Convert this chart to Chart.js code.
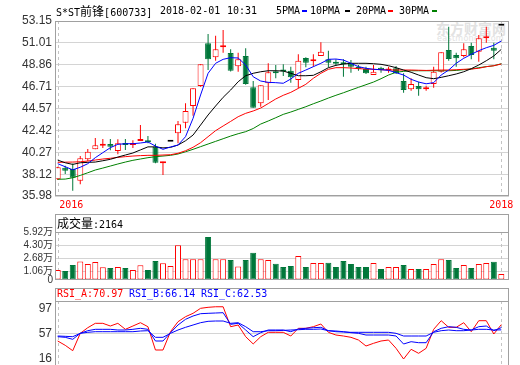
<!DOCTYPE html>
<html>
<head>
<meta charset="utf-8">
<title>S*ST前锋 600733</title>
<script src="https://cdn.jsdelivr.net/npm/chart.js@4.4.1/dist/chart.umd.min.js"></script>
<style>
  html, body { margin: 0; padding: 0; background: #fff; }
  body { position: relative; width: 520px; height: 365px; overflow: hidden; }
  canvas { position: absolute; left: 0; }
  .t { position: absolute; font: 10px "DejaVu Sans Mono", monospace; line-height: 12px; white-space: pre; color: #000; }
  .t .cn { font-family: "Noto Sans CJK SC"; font-size: 12px; }
  .mk { position: absolute; width: 5px; height: 2px; }
  .wm { position: absolute; color: #e2e2e2; font-family: "Noto Sans CJK SC"; white-space: pre; }
</style>
</head>
<body>
<div class="wm" style="left:436px;top:20px;font-size:14px;font-weight:bold;line-height:16px">东方财富网</div>
<div class="wm" style="left:437px;top:35px;font:8px 'DejaVu Sans';line-height:8px;letter-spacing:0.3px">eastmoney.com</div>

<canvas id="priceChart" width="520" height="214" style="top:0"></canvas>
<canvas id="volChart" width="520" height="74" style="top:214px"></canvas>
<canvas id="rsiChart" width="520" height="80" style="top:288px"></canvas>

<div class="t" style="left:56px;top:5px">S*ST<span class="cn">前锋</span>[600733]</div>
<div class="t" style="left:160px;top:5px">2018-02-01</div>
<div class="t" style="left:227px;top:5px">10:31</div>

<div class="t" style="left:276px;top:5px">5PMA</div><div class="mk" style="left:302px;top:10px;background:#00f"></div>
<div class="t" style="left:310px;top:5px">10PMA</div><div class="mk" style="left:345px;top:10px;background:#000"></div>
<div class="t" style="left:356px;top:5px">20PMA</div><div class="mk" style="left:388px;top:10px;background:#f00"></div>
<div class="t" style="left:399px;top:5px">30PMA</div><div class="mk" style="left:432px;top:10px;background:#008000"></div>

<div class="t" style="left:57px;top:217px"><span class="cn">成交量</span>:2164</div>

<div class="t" style="left:57px;top:288px;color:#f00">RSI_A:70.97</div>
<div class="t" style="left:129px;top:288px;color:#00f">RSI_B:66.14</div>
<div class="t" style="left:201px;top:288px;color:#00f">RSI_C:62.53</div>

<script>
const RED = "#f00";
const GREEN = "#00773a";

// year markers (candle index) and their labels
const yearIdx = [1, 60];
const yearLabels = ["2016", "2018"];

const priceTicks = [35.98, 38.12, 40.27, 42.42, 44.57, 46.71, 48.86, 51.01, 53.15];
const volTicks = [0, 1.06, 2.68, 4.30, 5.92];
const rsiTicks = [16, 57, 97];

// candles
const open = [37.62, 38.75, 38.63, 37.48, 39.58, 40.56, 40.90, 41.08, 40.39, 41.08,
              40.98, 41.37, 41.44, 40.82, 39.20, 41.30, 42.13, 43.17, 44.81, 46.77,
              50.96, 49.59, 50.57, 50.01, 48.70, 49.72, 46.64, 45.07, 47.04, 48.17,
              48.27, 48.27, 47.36, 49.52, 49.19, 49.72, 49.39, 49.10, 49.06, 49.00,
              48.67, 48.44, 47.85, 48.57, 48.30, 48.51, 47.26, 46.45, 46.77, 46.45,
              46.97, 48.17, 50.30, 49.81, 49.72, 50.70, 50.14, 51.45, 50.53, 52.69];
const high = [38.85, 38.95, 39.18, 39.90, 40.59, 41.67, 41.58, 41.58, 41.55, 41.58,
              41.45, 42.94, 41.86, 41.10, 39.35, 41.30, 43.34, 45.07, 46.54, 48.90,
              51.87, 51.71, 52.27, 50.37, 50.04, 50.47, 47.26, 46.84, 49.00, 48.83,
              48.90, 48.67, 49.88, 49.60, 49.88, 51.06, 50.24, 49.39, 49.39, 49.32,
              48.83, 48.67, 48.83, 48.67, 48.67, 48.73, 48.02, 47.53, 47.19, 46.80,
              48.67, 50.08, 52.59, 50.04, 50.96, 51.02, 51.78, 52.59, 51.02, 52.69];
const low = [37.55, 38.14, 36.50, 37.13, 39.41, 40.56, 40.69, 40.46, 40.08, 40.50,
             40.69, 41.37, 41.15, 39.20, 38.04, 41.30, 41.15, 42.62, 43.86, 46.70,
             48.34, 49.25, 50.04, 48.20, 48.17, 46.90, 44.64, 44.74, 45.40, 47.53,
             47.75, 47.10, 46.55, 48.60, 48.67, 49.72, 48.60, 48.76, 47.68, 48.08,
             48.27, 47.95, 47.85, 48.08, 48.08, 47.95, 46.11, 46.31, 45.82, 46.31,
             46.60, 48.10, 49.25, 48.67, 49.60, 49.39, 49.16, 51.02, 49.39, 52.69];
const close = [38.79, 38.46, 37.77, 39.68, 40.32, 40.95, 40.95, 40.81, 41.15, 40.98,
               41.15, 41.57, 41.25, 39.24, 39.30, 41.30, 43.01, 44.32, 46.54, 48.90,
               49.39, 50.37, 50.73, 48.27, 49.39, 46.97, 44.64, 46.84, 48.11, 48.02,
               48.20, 47.62, 49.25, 49.06, 49.39, 50.14, 49.06, 48.96, 48.90, 48.67,
               48.47, 48.02, 48.17, 48.34, 48.35, 48.02, 46.38, 46.97, 46.45, 46.64,
               48.17, 50.08, 49.42, 49.49, 50.37, 49.81, 51.45, 51.61, 50.24, 52.69];

// volume in 万, 1 = up (red) bar
const volume = [1.24, 1.12, 1.86, 2.31, 1.98, 2.23, 1.57, 1.49, 1.61, 1.49,
                1.24, 1.82, 1.24, 2.36, 2.07, 1.74, 4.30, 2.56, 2.56, 2.56,
                5.33, 2.56, 2.56, 2.48, 1.69, 2.48, 3.39, 2.56, 2.48, 2.02,
                1.61, 1.74, 2.98, 1.61, 2.11, 2.11, 2.15, 1.61, 2.36, 1.98,
                1.61, 1.61, 2.11, 1.36, 1.61, 1.61, 1.86, 1.36, 1.36, 1.36,
                1.98, 2.56, 2.48, 1.49, 1.86, 1.49, 1.98, 2.11, 2.27, 0.74];
const volUp = [1, 0, 0, 1, 1, 1, 1, 0, 1, 0, 1, 1, 0, 0, 1, 1, 1, 1, 1, 1,
               0, 1, 1, 0, 1, 0, 0, 1, 1, 0, 0, 0, 1, 0, 1, 1, 0, 0, 0, 0,
               0, 0, 1, 0, 1, 1, 0, 1, 0, 1, 1, 1, 0, 0, 1, 0, 1, 1, 0, 1];

// moving averages as drawn
const ma5 = [39.15, 38.85, 38.55, 38.80, 39.15, 39.74, 40.23, 40.72, 41.05, 41.11,
             41.11, 41.18, 41.28, 40.88, 40.56, 40.79, 40.98, 41.80, 43.60, 45.89,
             48.02, 49.00, 49.39, 49.55, 49.52, 48.83, 47.68, 47.26, 47.13, 47.10,
             47.04, 47.46, 48.02, 48.34, 48.67, 49.00, 49.39, 49.42, 49.32, 49.00,
             48.67, 48.51, 48.41, 48.37, 48.31, 48.08, 47.85, 47.43, 47.16, 46.99,
             47.10, 47.85, 48.34, 49.00, 49.49, 49.88, 50.24, 50.53, 50.76, 51.19];
const ma10 = [39.50, 39.24, 39.08, 39.24, 39.28, 39.31, 39.44, 39.58, 39.80, 40.00,
              40.20, 40.50, 40.80, 40.80, 40.70, 40.75, 40.98, 41.40, 41.96, 42.94,
              43.93, 44.81, 45.66, 46.38, 47.19, 47.78, 48.02, 48.17, 48.27, 48.27,
              48.24, 48.02, 47.78, 47.78, 47.82, 48.17, 48.57, 48.80, 48.93, 49.00,
              49.00, 49.00, 48.96, 48.90, 48.76, 48.57, 48.34, 48.12, 47.85, 47.59,
              47.49, 47.62, 47.78, 47.95, 48.17, 48.47, 48.83, 49.25, 49.72, 50.37];
const ma20 = [39.28, 39.30, 39.31, 39.34, 39.41, 39.51, 39.61, 39.68, 39.77, 39.84,
              39.90, 39.94, 39.97, 39.97, 40.00, 40.03, 40.17, 40.42, 40.76, 41.21,
              41.80, 42.39, 42.85, 43.30, 43.76, 44.09, 44.32, 44.61, 45.05, 45.50,
              45.86, 46.15, 46.54, 46.94, 47.53, 48.02, 48.41, 48.57, 48.57, 48.54,
              48.47, 48.44, 48.41, 48.37, 48.34, 48.34, 48.34, 48.34, 48.32, 48.30,
              48.32, 48.34, 48.34, 48.37, 48.41, 48.44, 48.51, 48.67, 48.76, 48.93];
const ma30 = [37.62, 37.64, 37.77, 38.00, 38.26, 38.53, 38.72, 38.92, 39.12, 39.31,
              39.48, 39.61, 39.74, 39.84, 39.90, 39.97, 40.10, 40.32, 40.56, 40.82,
              41.08, 41.34, 41.60, 41.86, 42.09, 42.29, 42.60, 43.04, 43.34, 43.66,
              43.99, 44.22, 44.48, 44.74, 45.03, 45.30, 45.59, 45.86, 46.11, 46.38,
              46.64, 46.90, 47.16, 47.49, 47.85, 48.12, 48.21, 48.27, 48.27, 48.27,
              48.27, 48.27, 48.27, 48.30, 48.37, 48.44, 48.57, 48.67, 48.76, 48.96];

// RSI lines
const rsiA = [44.7, 37.8, 29.2, 57.0, 66.0, 73.0, 73.0, 68.7, 73.0, 63.4,
              68.7, 74.0, 67.6, 30.3, 30.3, 59.6, 75.6, 83.6, 89.0, 97.0,
              98.6, 99.5, 99.5, 67.6, 70.3, 51.6, 40.0, 51.6, 58.6, 58.6,
              58.6, 52.7, 65.0, 65.0, 67.6, 71.9, 58.6, 54.3, 52.7, 50.6,
              46.3, 36.7, 41.0, 44.7, 46.3, 33.0, 15.9, 31.4, 25.0, 33.0,
              63.4, 77.2, 66.6, 66.6, 74.0, 59.6, 77.2, 77.2, 55.9, 70.97];
const rsiB = [51.6, 50.6, 47.4, 57.0, 61.2, 63.4, 63.4, 63.4, 62.3, 62.3,
              63.4, 65.0, 63.4, 44.7, 44.7, 58.0, 70.3, 79.4, 84.7, 88.4,
              89.0, 89.5, 90.0, 71.4, 73.0, 62.3, 51.6, 58.0, 62.3, 62.3,
              62.3, 59.6, 63.9, 65.0, 66.0, 66.6, 61.2, 60.7, 59.6, 58.0,
              57.0, 54.3, 54.3, 54.3, 54.3, 52.7, 39.9, 43.6, 42.0, 42.0,
              59.6, 65.0, 67.6, 66.6, 63.4, 62.3, 67.6, 68.7, 61.2, 66.14];
const rsiC = [52.7, 52.2, 51.6, 57.0, 58.6, 59.6, 59.6, 59.6, 59.6, 59.6,
              59.6, 60.7, 61.2, 50.6, 50.6, 57.0, 62.3, 66.6, 70.3, 74.0,
              76.2, 76.7, 76.7, 73.0, 74.0, 67.6, 59.6, 59.6, 61.2, 61.2,
              61.7, 62.3, 62.8, 63.4, 63.4, 63.9, 61.2, 59.6, 59.1, 58.6,
              58.6, 58.6, 58.6, 58.6, 58.6, 57.0, 52.7, 52.7, 52.7, 52.7,
              58.6, 61.2, 62.3, 61.2, 61.2, 62.3, 63.4, 63.4, 62.3, 62.53];

Chart.defaults.font.family = '"Liberation Sans", Arial, "Noto Sans CJK SC", sans-serif';

const pts = arr => arr.map((v, i) => ({x: i + 1, y: v}));
const isLimit = i => open[i] === high[i] && high[i] === low[i] && low[i] === close[i];
const candleColor = i => isLimit(i) ? "#000" : (close[i] >= open[i] ? RED : GREEN);
const candleFill = i => isLimit(i) ? "#000" : (close[i] >= open[i] ? "#fff" : GREEN);

// frame, header separator, dashed year lines, year labels
const paneDeco = {
    id: "paneDeco",
    beforeDatasetsDraw(chart, args, opts) {
        const {ctx, chartArea: a, scales: {x}} = chart;
        ctx.save();
        ctx.strokeStyle = "#c4c4c4";
        ctx.lineWidth = 1;
        ctx.setLineDash([3, 3]);
        yearIdx.forEach(i => {
            const px = Math.round(x.getPixelForValue(i)) + 0.5;
            ctx.beginPath();
            ctx.moveTo(px, a.top + (opts.head || 0));
            ctx.lineTo(px, a.bottom);
            ctx.stroke();
        });
        ctx.restore();
    },
    afterDraw(chart, args, opts) {
        const {ctx, chartArea: a, scales: {x}} = chart;
        ctx.save();
        ctx.strokeStyle = "#a0a0a0";
        ctx.lineWidth = 1;
        ctx.strokeRect(a.left + 0.5, a.top + 0.5, a.width - 1, a.height - 1);
        if (opts.head) {
            ctx.beginPath();
            ctx.moveTo(a.left, a.top + opts.head + 0.5);
            ctx.lineTo(a.right, a.top + opts.head + 0.5);
            ctx.stroke();
        }
        if (opts.years) {
            ctx.font = '10px "DejaVu Sans Mono", monospace';
            ctx.fillStyle = RED;
            ctx.textBaseline = "middle";
            yearIdx.forEach((idx, k) => {
                const px = x.getPixelForValue(idx);
                ctx.textAlign = k === 0 ? "left" : "center";
                ctx.fillText(yearLabels[k], k === 0 ? px + 1.5 : px, a.bottom + 9.5);
            });
        }
        ctx.restore();
    }
};

const xAxis = () => ({type: "linear", min: 0.64, max: 61.02, offset: false, display: false});

function yAxis(min, max, ticks, fmt, gridColor, fontSize, pad) {
    return {
        min: min,
        max: max,
        afterBuildTicks: s => { s.ticks = ticks.map(v => ({value: v})); },
        afterFit: s => {
            s.width = 55;
            // labels may hang over the plot edges, keep the plot where it is
            s.paddingTop = 0;
            s.paddingBottom = 0;
        },
        border: {display: false},
        grid: {drawTicks: false, color: gridColor},
        ticks: {autoSkip: false, padding: pad, color: "#333", font: {size: fontSize}, callback: fmt}
    };
}

const common = {
    responsive: false,
    animation: false,
    events: []
};

const maLine = (arr, color) => ({
    type: "line", data: pts(arr), borderColor: color, borderWidth: 1,
    pointRadius: 0, tension: 0, order: 0
});

// price pane
new Chart(document.getElementById("priceChart"), {
    type: "bar",
    data: {
        datasets: [
            maLine(ma5, "#0000ff"),
            maLine(ma10, "#000000"),
            maLine(ma20, "#ff0000"),
            maLine(ma30, "#008000"),
            {
                label: "body",
                data: open.map((o, i) => ({x: i + 1, y: [o, close[i]]})),
                backgroundColor: open.map((o, i) => candleFill(i)),
                borderColor: open.map((o, i) => candleColor(i)),
                borderWidth: 1,
                borderSkipped: false,
                barThickness: 6,
                minBarLength: 2,
                inflateAmount: 0,
                grouped: false,
                order: 1
            },
            {
                label: "wick",
                data: low.map((l, i) => ({x: i + 1, y: [l, high[i]]})),
                backgroundColor: low.map((l, i) => candleColor(i)),
                borderWidth: 0,
                barThickness: 1,
                inflateAmount: 0,
                grouped: false,
                order: 2
            }
        ]
    },
    options: {
        ...common,
        layout: {padding: {top: 21, right: 11, bottom: 18, left: 0}},
        plugins: {legend: {display: false}, tooltip: {enabled: false}, paneDeco: {years: true}},
        scales: {
            x: xAxis(),
            y: yAxis(35.98, 53.15, priceTicks, v => v.toFixed(2), "#d4d4d4", 12, 3)
        }
    },
    plugins: [paneDeco]
});

// volume pane
new Chart(document.getElementById("volChart"), {
    type: "bar",
    data: {
        datasets: [{
            data: pts(volume),
            backgroundColor: volUp.map(u => u ? "#fff" : GREEN),
            borderColor: volUp.map(u => u ? RED : GREEN),
            borderWidth: 1,
            borderSkipped: false,
            barThickness: 6,
            inflateAmount: 0
        }]
    },
    options: {
        ...common,
        layout: {padding: {top: 0, right: 11, bottom: 8, left: 0}},
        plugins: {legend: {display: false}, tooltip: {enabled: false}, paneDeco: {head: 18}},
        scales: {
            x: xAxis(),
            y: yAxis(0, 8.19, volTicks, v => v === 0 ? "0" : v.toFixed(2) + "万",
                c => (c.tick && c.tick.value > 0 && c.tick.value < 5) ? "#d4d4d4" : "rgba(0,0,0,0)",
                10, 2)
        }
    },
    plugins: [paneDeco]
});

// RSI pane
const rsiLine = (arr, color) => ({
    data: pts(arr), borderColor: color, borderWidth: 1, pointRadius: 0, tension: 0
});

new Chart(document.getElementById("rsiChart"), {
    type: "line",
    data: {
        datasets: [
            rsiLine(rsiC, "#0000ff"),
            rsiLine(rsiB, "#0000ff"),
            rsiLine(rsiA, "#ff0000")
        ]
    },
    options: {
        ...common,
        layout: {padding: {top: 0, right: 11, bottom: 0, left: 0}},
        plugins: {legend: {display: false}, tooltip: {enabled: false}, paneDeco: {head: 13}},
        scales: {
            x: xAxis(),
            y: yAxis(1.5, 129.5, rsiTicks, v => String(v),
                c => (c.tick && c.tick.value === 57) ? "#d4d4d4" : "rgba(0,0,0,0)", 12, 3)
        }
    },
    plugins: [paneDeco]
});
</script>
</body>
</html>
